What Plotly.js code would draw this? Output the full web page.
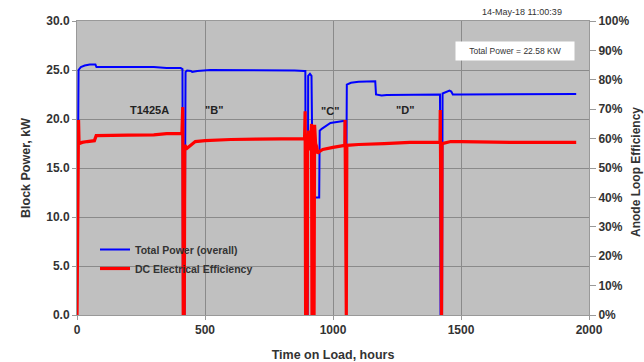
<!DOCTYPE html>
<html><head><meta charset="utf-8">
<script src="https://cdn.plot.ly/plotly-3.0.1.min.js"></script>
<style>html,body{margin:0;padding:0;background:#fff;}#chart{width:644px;height:362px;}</style>
</head><body><div id="chart"></div>
<script>
// Total Power (overall), kW vs time on load (hours)
const powerHours = [0,6,15,30,50,65,72,76,120,200,300,350,405,412,414,420,424,430,445,450,470,520,650,750,850,888,892,894,901,903,910,916,921,946,948,956,990,1040,1046,1048,1052,1054,1070,1100,1165,1168,1190,1210,1300,1400,1418,1420,1426,1428,1440,1455,1462,1468,1500,1600,1700,1800,1950];
const powerKW    = [0,25.0,25.3,25.45,25.55,25.6,25.55,25.3,25.3,25.3,25.3,25.2,25.2,25.1,0,0,24.8,24.95,24.9,24.8,24.9,25.0,25.0,25.0,24.95,24.9,24.9,0,0,24.4,24.6,24.4,12.0,12.0,18.8,19.0,19.6,19.8,19.8,13.5,13.5,23.5,23.7,23.8,23.85,22.5,22.4,22.45,22.5,22.5,22.5,0,0,22.6,22.7,22.9,22.8,22.5,22.5,22.5,22.5,22.5,22.55];
// DC Electrical Efficiency, % vs time on load (hours)
const effHours = [0,3,6,8,20,40,60,68,75,100,200,300,350,400,410,413,415,419,421,430,445,462,500,600,700,800,880,889,891,893,899,901,905,908,912,916,918,926,928,932,936,940,948,960,1000,1040,1046,1047,1049,1052,1054,1100,1200,1300,1400,1418,1419,1421,1424,1426,1440,1460,1500,1600,1700,1800,1950];
const effPct   = [0,66.3,66.3,58.3,58.7,59.0,59.2,59.3,61.0,61.0,61.2,61.3,61.7,61.7,61.7,70.7,0,0,57.7,56.7,57.7,59.0,59.3,59.7,59.8,60.0,60.0,60.0,69.3,0,0,58.3,62.7,56.0,58.3,65.0,0,0,64.7,58.3,57.3,55.0,55.7,56.3,57.0,57.7,57.7,66.3,0,0,57.7,58.0,58.3,58.7,58.7,58.7,69.7,0,0,58.3,58.7,59.0,59.0,58.8,58.7,58.7,58.7];
// Segment labels
const segLabels = ['T1425A','"B"','"C"','"D"'];
const segHours  = [285,536,990,1280];
const segKW     = [20.9,20.9,20.8,20.9];
const stampText = '14-May-18 11:00:39';
const totalText = 'Total Power = 22.58 KW';

const FAM = 'Liberation Sans, Arial, sans-serif';
const tickFont = {family:FAM, size:12, color:'#333', weight:700};
const traces = [
  {x:powerHours, y:powerKW, type:'scatter', mode:'lines', name:'Total Power (overall)', line:{color:'#0000ff', width:2}, yaxis:'y'},
  {x:effHours, y:effPct, type:'scatter', mode:'lines', name:'DC Electrical Efficiency', line:{color:'#ff0000', width:3.2}, yaxis:'y2'}
];
const annotations = segLabels.map((t,i)=>({x:segHours[i], y:segKW[i], xref:'x', yref:'y', text:t, showarrow:false,
  xanchor:'center', yanchor:'middle',
  font:{family:FAM, size:11, color:'#222', weight:700}}));
annotations.push({xref:'paper', yref:'paper', x:(522-77)/512, y:(315-12)/294, text:stampText, showarrow:false,
  xanchor:'center', yanchor:'middle',
  font:{family:FAM, size:9, color:'#333'}});
annotations.push({xref:'paper', yref:'paper', x:(515-77)/512, y:(315-51.5)/294, text:totalText, showarrow:false,
  xanchor:'center', yanchor:'middle',
  bgcolor:'#ffffff', borderpad:3, width:112, height:12,
  font:{family:FAM, size:8.5, color:'#333'}});
annotations.push({xref:'paper', yref:'paper', x:(636-77)/512, y:(315-172)/294, text:'Anode Loop Efficiency', showarrow:false, textangle:-90,
  xanchor:'center', yanchor:'middle',
  font:{family:FAM, size:12, color:'#333', weight:700}});

const layout = {
  width:644, height:362,
  margin:{l:77, r:55, t:21, b:47, pad:0},
  paper_bgcolor:'#ffffff', plot_bgcolor:'#c0c0c0',
  showlegend:true,
  legend:{x:(95-77)/512, y:(315-235)/294, xanchor:'left', yanchor:'top', bgcolor:'rgba(0,0,0,0)', tracegroupgap:0,
    font:{family:FAM, size:10.5, color:'#333', weight:700}},
  xaxis:{range:[0,2000], dtick:500, tick0:0, showgrid:true, gridcolor:'#8a8a8a', gridwidth:1, zeroline:false,
    showline:true, linecolor:'#999', mirror:true, ticks:'outside', ticklen:4, tickcolor:'#999', tickfont:tickFont,
    title:{text:'Time on Load, hours', font:{family:FAM, size:12.5, color:'#333', weight:700}, standoff:14}},
  yaxis:{range:[0,30], dtick:5, tick0:0, tickformat:'.1f', showgrid:true, gridcolor:'#8a8a8a', gridwidth:1, zeroline:false,
    showline:true, linecolor:'#999', mirror:true, ticks:'outside', ticklen:4, tickcolor:'#999', tickfont:tickFont,
    title:{text:'Block Power, kW', font:{family:FAM, size:12.5, color:'#333', weight:700}, standoff:12}},
  yaxis2:{range:[0,100], dtick:10, tick0:0, ticksuffix:'%', overlaying:'y', side:'right', showgrid:false, zeroline:false,
    showline:false, ticks:'outside', ticklen:6, tickcolor:'#999', tickfont:tickFont},
  annotations:annotations
};
Plotly.newPlot('chart', traces, layout, {staticPlot:true, displayModeBar:false});
</script></body></html>
